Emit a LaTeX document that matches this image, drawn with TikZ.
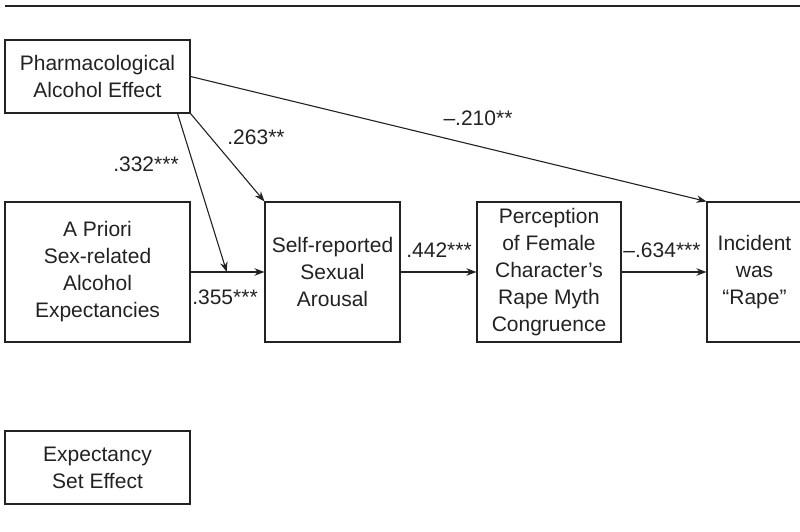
\documentclass[tikz,border=0pt]{standalone}
\usepackage{fontspec}
\setmainfont{Liberation Sans}
\usetikzlibrary{arrows.meta,calc}
\definecolor{ink}{HTML}{222222}
\tikzset{
  box/.style={draw=ink, line width=1.1pt, text=ink, align=center, inner sep=0pt, minimum width=185pt},
  path/.style={draw=ink, line width=1.1pt, -{Stealth[length=10pt,width=7.5pt]}},
  coef/.style={text=ink, inner sep=0pt}
}
\begin{document}
\begin{tikzpicture}[x=1pt,y=-1pt,font=\fontsize{21}{27}\selectfont]
\useasboundingbox (0,0) rectangle (800,532);
\clip (0,0) rectangle (800,532);
\draw[ink, line width=2.5pt] (5,6) -- (800,6);
\node[box, minimum height=73pt] (pharm) at (97.5,76.5) {Pharmacological\\Alcohol Effect};
\node[box, minimum height=140pt] (apriori) at (97.5,272) {A Priori\\Sex-related\\Alcohol\\Expectancies};
\node[box, minimum width=135pt, minimum height=140pt] (arousal) at (332.5,272) {Self-reported\\Sexual\\Arousal};
\node[box, minimum width=144pt, minimum height=140pt] (percep) at (549,272) {Perception\\of Female\\Character’s\\Rape Myth\\Congruence};
\node[box, minimum width=95pt, minimum height=140pt] (incident) at (754.5,272) {Incident\\was\\“Rape”};
\node[box, minimum height=73pt] (expect) at (97.5,467.5) {Expectancy\\Set Effect};
\coordinate (pfoot) at ([xshift=-13pt]pharm.south east);
\coordinate (mid) at ($(apriori.east)!0.49!(arousal.west)$);
\draw[path] (pharm.east) -- (incident.north west);
\draw[path] (pharm.south east) -- (arousal.north west);
\draw[path] (apriori.east) -- (arousal.west);
\draw[path] (pfoot) -- (mid);
\draw[path] (arousal.east) -- (percep.west);
\draw[path] (percep.east) -- (incident.west);
\node[coef] at (256,137) {.263**};
\node[coef] at (146,164) {.332***};
\node[coef] at (478,118) {–.210**};
\node[coef] at (225,297) {.355***};
\node[coef] at (439,250) {.442***};
\node[coef] at (662,250) {–.634***};
\end{tikzpicture}
\end{document}
